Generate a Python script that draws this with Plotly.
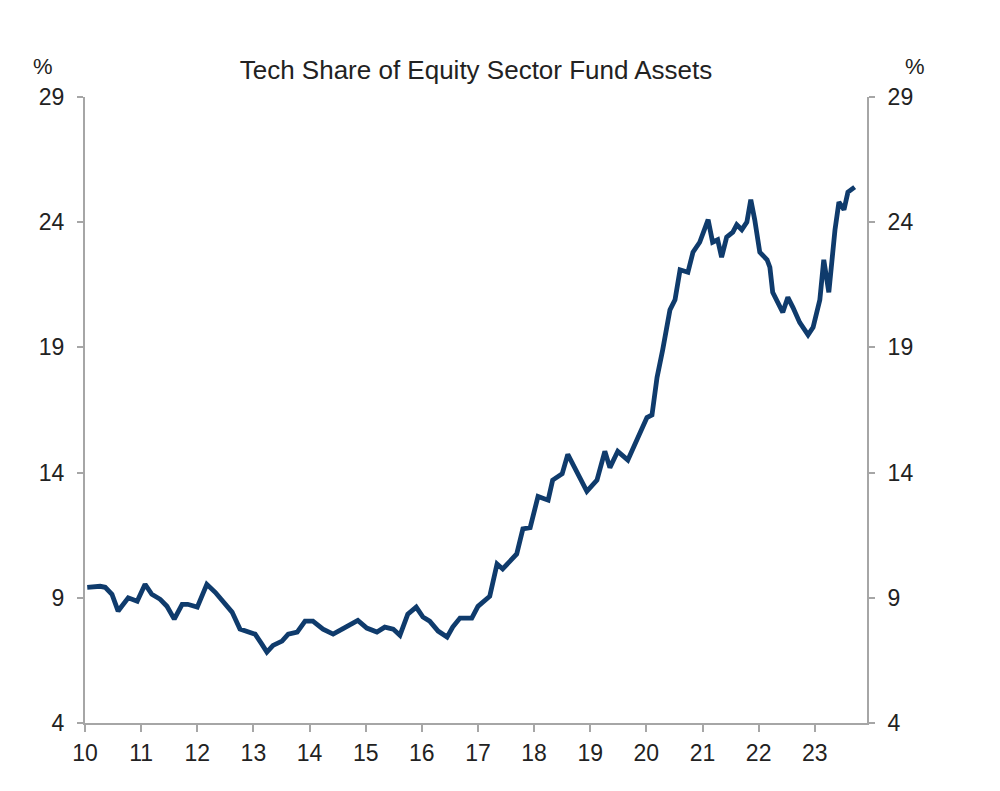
import plotly.graph_objects as go

# Decimal year (10 = 2010) and tech share of equity sector fund assets (%)
years = [10.04, 10.27, 10.36, 10.48, 10.59, 10.77, 10.93, 11.07, 11.19, 11.34,
         11.46, 11.59, 11.73, 11.83, 12.00, 12.17, 12.32, 12.46, 12.62, 12.76,
         12.89, 13.03, 13.15, 13.24, 13.35, 13.51, 13.62, 13.78, 13.92, 14.06,
         14.24, 14.42, 14.58, 14.72, 14.86, 15.02, 15.20, 15.34, 15.49, 15.61,
         15.75, 15.90, 16.02, 16.14, 16.29, 16.45, 16.55, 16.68, 16.89, 17.00,
         17.21, 17.34, 17.44, 17.69, 17.80, 17.93, 18.07, 18.25, 18.33, 18.50,
         18.60, 18.94, 19.12, 19.26, 19.35, 19.49, 19.67, 19.83, 20.01, 20.10,
         20.19, 20.29, 20.42, 20.51, 20.60, 20.74, 20.83, 20.95, 21.10, 21.18,
         21.27, 21.34, 21.43, 21.54, 21.61, 21.70, 21.79, 21.86, 21.93, 22.02,
         22.15, 22.20, 22.25, 22.43, 22.52, 22.61, 22.73, 22.88, 22.97, 23.09,
         23.16, 23.25, 23.36, 23.43, 23.52, 23.59, 23.68, 23.71]
tech_share = [9.42, 9.46, 9.42, 9.14, 8.47, 9.00, 8.86, 9.54, 9.14, 8.94,
              8.66, 8.15, 8.74, 8.74, 8.63, 9.54, 9.22, 8.86, 8.43, 7.75,
              7.67, 7.55, 7.15, 6.83, 7.10, 7.27, 7.55, 7.63, 8.07, 8.07,
              7.75, 7.55, 7.75, 7.95, 8.10, 7.79, 7.63, 7.83, 7.75, 7.50,
              8.35, 8.63, 8.23, 8.07, 7.67, 7.43, 7.83, 8.19, 8.19, 8.66,
              9.06, 10.35, 10.15, 10.75, 11.75, 11.80, 13.05, 12.90, 13.70, 13.95,
              14.73, 13.25, 13.70, 14.85, 14.20, 14.85, 14.50, 15.30, 16.20, 16.30,
              17.80, 18.90, 20.50, 20.90, 22.10, 22.00, 22.80, 23.20, 24.10, 23.20,
              23.30, 22.60, 23.40, 23.60, 23.90, 23.70, 24.00, 24.90, 24.10, 22.80,
              22.50, 22.20, 21.20, 20.40, 21.00, 20.60, 20.00, 19.50, 19.80, 20.90,
              22.50, 21.20, 23.70, 24.80, 24.50, 25.20, 25.40, 25.40]

x_ticks = [10, 11, 12, 13, 14, 15, 16, 17, 18, 19, 20, 21, 22, 23]
x_labels = [str(t) for t in x_ticks]
y_ticks = [4, 9, 14, 19, 24, 29]

FONT = "Liberation Sans, Arial, sans-serif"
AXIS_COL = "#a6a6a6"
TXT_COL = "#222222"

fig = go.Figure()
fig.add_trace(go.Scatter(x=years, y=tech_share, mode="lines",
                         line=dict(color="#0f3b6c", width=4.8),
                         showlegend=False, hoverinfo="x+y"))
fig.add_trace(go.Scatter(x=years, y=tech_share, mode="lines", yaxis="y2",
                         line=dict(color="rgba(0,0,0,0)", width=0),
                         showlegend=False, hoverinfo="skip"))

common_y = dict(range=[4, 29], tickvals=y_ticks, showline=True,
                linecolor=AXIS_COL, linewidth=2, ticks="outside",
                tickcolor=AXIS_COL, ticklen=6, tickwidth=1.5,
                showgrid=False, zeroline=False, ticklabelstandoff=8,
                tickfont=dict(family=FONT, size=23, color=TXT_COL))

# page body has an 8px default margin; plot area spans page x 85..867, y 97..723
fig.update_layout(
    width=1000, height=791,
    margin=dict(l=77, r=141, t=89, b=76),
    paper_bgcolor="white", plot_bgcolor="white",
    title=dict(text="Tech Share of Equity Sector Fund Assets",
               x=(77 + 859) / 2 / 1000, xanchor="center",
               y=1 - 62 / 791, yanchor="middle",
               font=dict(family=FONT, size=26, color=TXT_COL)),
    xaxis=dict(range=[10, 23.93], tickvals=x_ticks, ticktext=x_labels,
               showline=True, linecolor=AXIS_COL, linewidth=2,
               ticks="outside", tickcolor=AXIS_COL, ticklen=7, tickwidth=1.5,
               showgrid=False, zeroline=False, ticklabelstandoff=1,
               tickfont=dict(family=FONT, size=23, color=TXT_COL)),
    yaxis=dict(side="left", **common_y),
    yaxis2=dict(side="right", overlaying="y", **common_y),
    annotations=[
        dict(text="%", xref="paper", yref="paper", x=-42 / 782, y=(723 - 67) / 626,
             xanchor="center", yanchor="middle", showarrow=False,
             font=dict(family=FONT, size=22, color=TXT_COL)),
        dict(text="%", xref="paper", yref="paper", x=1 + 48 / 782, y=(723 - 67) / 626,
             xanchor="center", yanchor="middle", showarrow=False,
             font=dict(family=FONT, size=22, color=TXT_COL)),
    ],
)

fig.write_html("out.html")
